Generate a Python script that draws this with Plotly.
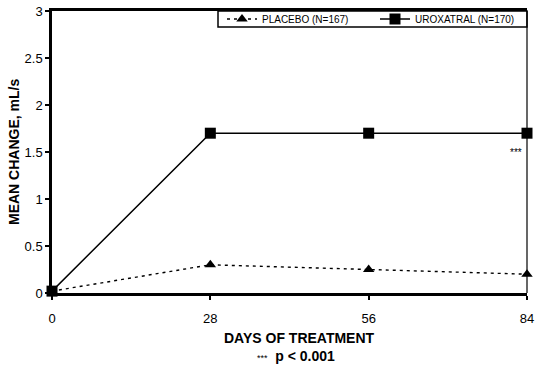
import plotly.graph_objects as go

days = [0, 28, 56, 84]
placebo = [0.02, 0.30, 0.25, 0.20]
uroxatral = [0.02, 1.70, 1.70, 1.70]
x_ticks = [0, 28, 56, 84]
y_ticks = [0, 0.5, 1, 1.5, 2, 2.5, 3]
y_tick_labels = ["0", "0.5", "1", "1.5", "2", "2.5", "3"]

FONT = "Liberation Sans, Arial, sans-serif"

fig = go.Figure()
fig.add_trace(go.Scatter(
    x=days, y=placebo, name="PLACEBO (N=167)", mode="lines+markers",
    line=dict(color="black", width=1.4, dash="3px,4px"),
    marker=dict(symbol="triangle-up", size=10, color="black"),
    cliponaxis=False,
))
fig.add_trace(go.Scatter(
    x=days, y=uroxatral, name="UROXATRAL (N=170)", mode="lines+markers",
    line=dict(color="black", width=1.5),
    marker=dict(symbol="square", size=11, color="black"),
    cliponaxis=False,
))

L, R, T, B = 52, 16, 11, 74
PW, PH = 543 - L - R, 367 - T - B

def px_x(p):
    return (p - L) / PW

def px_y(p):
    return (367 - B - p) / PH

fig.update_layout(
    width=543, height=367,
    margin=dict(l=L, r=R, t=T, b=B, autoexpand=False),
    paper_bgcolor="white", plot_bgcolor="white",
    font=dict(family=FONT, color="black", size=13),
    showlegend=True,
    legend=dict(
        orientation="h", x=px_x(222), y=px_y(19), xanchor="left", yanchor="middle",
        borderwidth=0, bgcolor="rgba(0,0,0,0)",
        font=dict(size=10, color="black"),
        entrywidthmode="pixels", entrywidth=108,
    ),
    xaxis=dict(
        range=[0, 84], tickvals=x_ticks, ticktext=[str(v) for v in x_ticks],
        showgrid=False, zeroline=False, showline=True, linecolor="black",
        linewidth=2.5, mirror=True, ticks="outside", ticklen=4, tickwidth=1.5,
        tickcolor="black", ticklabelstandoff=8, tickfont=dict(size=13, color="black"),
        automargin=False,
    ),
    yaxis=dict(
        range=[0, 3], tickvals=y_ticks, ticktext=y_tick_labels,
        showgrid=False, zeroline=False, showline=True, linecolor="black",
        linewidth=2.5, ticks="outside", ticklen=4, tickwidth=1.5,
        tickcolor="black", tickfont=dict(size=13, color="black"),
        automargin=False,
    ),
    shapes=[
        dict(type="line", xref="paper", yref="paper", x0=1, x1=1, y0=0, y1=1,
             line=dict(color="black", width=1.2)),
        dict(type="rect", xref="paper", yref="paper", x0=px_x(218), x1=1,
             y0=px_y(27), y1=1, line=dict(color="black", width=1.5),
             fillcolor="rgba(0,0,0,0)", layer="above"),
    ],
    annotations=[
        dict(text="<b>MEAN CHANGE, mL/s</b>", xref="paper", yref="paper", x=0, y=0.5,
             xshift=-38, textangle=-90, showarrow=False,
             font=dict(size=14, family=FONT, color="black"), xanchor="center", yanchor="middle"),
        dict(text="<b>DAYS OF TREATMENT</b>", xref="paper", yref="paper", x=0.5, y=0,
             xshift=10, yshift=-45, showarrow=False,
             font=dict(size=14, family=FONT, color="black"), xanchor="center", yanchor="middle"),
        dict(text="<span style='font-size:9px'>***</span>  <b>p < 0.001</b>", xref="paper", yref="paper",
             x=0.5, y=0, xshift=6, yshift=-63, showarrow=False,
             font=dict(size=14, family=FONT, color="black"), xanchor="center", yanchor="middle"),
        dict(text="***", x=84, y=1.5, xref="x", yref="y", xanchor="right", yanchor="middle",
             xshift=-3, showarrow=False, font=dict(size=10, family=FONT, color="#000000")),
    ],
)

fig.write_html("out.html", config={"displayModeBar": False},
               post_script="document.body.style.margin='0';document.body.style.overflow='hidden';")
